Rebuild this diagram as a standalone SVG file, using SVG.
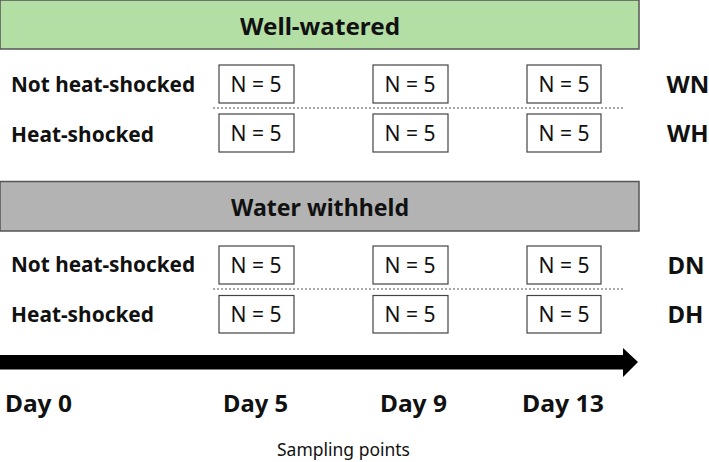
<svg xmlns="http://www.w3.org/2000/svg" width="709" height="462" viewBox="0 0 709 462">
<style>
text{font-family:"Noto Sans","Liberation Sans",sans-serif;fill:#111}
.hdr{stroke:#555;stroke-width:1.5}
.hdrt{font-weight:bold;font-size:24px;text-anchor:middle}
.lbl{font-weight:bold;font-size:22px}
.code{font-weight:bold;font-size:24px}
.box{fill:#fff;stroke:#444;stroke-width:1.2}
.n{font-size:21.5px;text-anchor:middle}
.dot{stroke:#555;stroke-width:1.2;stroke-dasharray:2 2}
.day{font-weight:bold;font-size:24px}
.sp{font-size:17.5px;text-anchor:middle}
</style>
<g id="well-watered">
<rect class="hdr" x="0" y="0" width="639" height="49" fill="#b3dfa5"/>
<text class="hdrt" x="320" y="34.5" textLength="160" lengthAdjust="spacingAndGlyphs">Well-watered</text>
</g>
<g id="row-WN">
<text class="lbl" x="11" y="91.5" textLength="184" lengthAdjust="spacingAndGlyphs">Not heat-shocked</text>
<rect class="box" x="219" y="65" width="75" height="38"/><text class="n" x="256" y="91.7" textLength="51" lengthAdjust="spacingAndGlyphs">N = 5</text>
<rect class="box" x="373" y="65" width="75" height="38"/><text class="n" x="410" y="91.7" textLength="51" lengthAdjust="spacingAndGlyphs">N = 5</text>
<rect class="box" x="527" y="65" width="74" height="38"/><text class="n" x="564" y="91.7" textLength="51" lengthAdjust="spacingAndGlyphs">N = 5</text>
<text class="code" x="666.5" y="92.7">WN</text>
</g>
<g id="row-WH">
<text class="lbl" x="11" y="141.5" textLength="143" lengthAdjust="spacingAndGlyphs">Heat-shocked</text>
<rect class="box" x="219" y="114" width="75" height="38"/><text class="n" x="256" y="140.7" textLength="51" lengthAdjust="spacingAndGlyphs">N = 5</text>
<rect class="box" x="373" y="114" width="75" height="38"/><text class="n" x="410" y="140.7" textLength="51" lengthAdjust="spacingAndGlyphs">N = 5</text>
<rect class="box" x="527" y="114" width="74" height="38"/><text class="n" x="564" y="140.7" textLength="51" lengthAdjust="spacingAndGlyphs">N = 5</text>
<text class="code" x="667" y="141.7">WH</text>
</g>
<g id="water-withheld">
<rect class="hdr" x="0" y="181.5" width="639" height="49.5" fill="#b3b3b3"/>
<text class="hdrt" x="320" y="216" textLength="178" lengthAdjust="spacingAndGlyphs">Water withheld</text>
</g>
<g id="row-DN">
<text class="lbl" x="11" y="272" textLength="184" lengthAdjust="spacingAndGlyphs">Not heat-shocked</text>
<rect class="box" x="219" y="246" width="75" height="38"/><text class="n" x="256" y="273" textLength="51" lengthAdjust="spacingAndGlyphs">N = 5</text>
<rect class="box" x="373" y="246" width="75" height="38"/><text class="n" x="410" y="273" textLength="51" lengthAdjust="spacingAndGlyphs">N = 5</text>
<rect class="box" x="527" y="246" width="74" height="38"/><text class="n" x="564" y="273" textLength="51" lengthAdjust="spacingAndGlyphs">N = 5</text>
<text class="code" x="667.5" y="273.5">DN</text>
</g>
<g id="row-DH">
<text class="lbl" x="11" y="322" textLength="143" lengthAdjust="spacingAndGlyphs">Heat-shocked</text>
<rect class="box" x="219" y="295.5" width="75" height="37.5"/><text class="n" x="256" y="322.3" textLength="51" lengthAdjust="spacingAndGlyphs">N = 5</text>
<rect class="box" x="373" y="295.5" width="75" height="37.5"/><text class="n" x="410" y="322.3" textLength="51" lengthAdjust="spacingAndGlyphs">N = 5</text>
<rect class="box" x="527" y="295.5" width="74" height="37.5"/><text class="n" x="564" y="322.3" textLength="51" lengthAdjust="spacingAndGlyphs">N = 5</text>
<text class="code" x="667.5" y="323">DH</text>
</g>
<g id="connectors">
<line class="dot" x1="213" y1="108" x2="623" y2="108"/>
<line class="dot" x1="213" y1="289" x2="623" y2="289"/>
<polygon points="0,355 623,355 623,348 638,362 623,377 623,369.5 0,369.5" fill="#000"/>
</g>
<g id="timeline">
<text class="day" x="5" y="412.3" textLength="67" lengthAdjust="spacingAndGlyphs">Day 0</text>
<text class="day" x="223" y="412.3" textLength="65" lengthAdjust="spacingAndGlyphs">Day 5</text>
<text class="day" x="380" y="412.3" textLength="67" lengthAdjust="spacingAndGlyphs">Day 9</text>
<text class="day" x="522" y="412.3" textLength="82" lengthAdjust="spacingAndGlyphs">Day 13</text>
<text class="sp" x="343.5" y="456" textLength="133" lengthAdjust="spacingAndGlyphs">Sampling points</text>
</g>
</svg>
